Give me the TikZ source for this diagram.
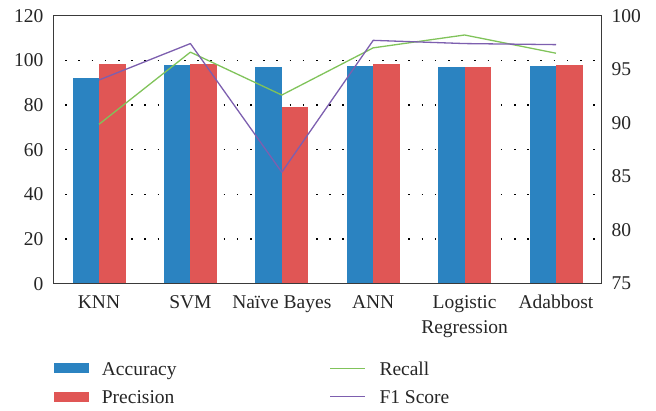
\documentclass[tikz,border=0pt]{standalone}
\usepackage{fontspec}
\setmainfont{Liberation Serif}
\definecolor{accblue}{HTML}{2B83C1}
\definecolor{precred}{HTML}{E05655}
\definecolor{recgreen}{HTML}{80C35A}
\definecolor{fonepurple}{HTML}{7D5FAF}
\definecolor{framegray}{HTML}{3A3A3A}
\definecolor{txtgray}{HTML}{262626}
\begin{document}
\begin{tikzpicture}[x=1pt,y=-1pt,
  lbl/.style={font=\fontsize{19.5}{23}\selectfont, text=txtgray, inner sep=0pt},
  gridline/.style={black, line width=1.5pt, dash pattern=on 1.5pt off 11.7pt},
  frameline/.style={framegray, line width=1.3pt},
  recline/.style={recgreen, line width=1.3pt, line join=round},
  foneline/.style={fonepurple, line width=1.3pt, line join=round}]
\useasboundingbox (0,0) rectangle (656,411);
% horizontal dotted grid (left axis: y = 283.7 - 2.2333 * value)
\foreach \v in {20,40,60,80,100}
  \draw[gridline] (65.25,{283.7-2.23333*\v}) -- (596,{283.7-2.23333*\v});
% bars: accuracy (blue) and precision (red)
\foreach \i/\a/\p in {0/92.1/98.4, 1/97.9/98.4, 2/97.0/79.1, 3/97.5/98.4, 4/97.0/97.0, 5/97.5/97.9} {
  \fill[accblue] ({99+91.4*\i-26.5},283.7) rectangle ({99+91.4*\i},{283.7-2.23333*\a});
  \fill[precred] ({99+91.4*\i},283.7) rectangle ({99+91.4*\i+26.5},{283.7-2.23333*\p});
}
% line series on the right axis (y = 283.7 - 10.72 * (value - 75))
\foreach \i/\r/\f in {0/89.87/94.0, 1/96.6/97.4, 2/92.6/85.4, 3/97.0/97.7, 4/98.2/97.4, 5/96.5/97.3} {
  \coordinate (r\i) at ({99+91.4*\i},{283.7-10.72*(\r-75)});
  \coordinate (f\i) at ({99+91.4*\i},{283.7-10.72*(\f-75)});
}
\draw[recline] (r0) -- (r1) -- (r2) -- (r3) -- (r4) -- (r5);
\draw[foneline] (f0) -- (f1) -- (f2) -- (f3) -- (f4) -- (f5);
% plot frame
\draw[frameline] (53.3,15.7) rectangle (601.7,283.7);
% left axis labels
\foreach \v in {0,20,40,60,80,100,120}
  \node[lbl, anchor=east] (l\v) at (43.5,{283.7-2.23333*\v}) {\v};
% right axis labels
\foreach \v in {75,80,85,90,95,100}
  \node[lbl, anchor=west] (rr\v) at (611.5,{283.7-10.72*(\v-75)}) {\v};
% category labels
\node[lbl, anchor=base] (cknn) at (99,308.3) {KNN};
\node[lbl, anchor=base] (csvm) at (190.4,308.3) {SVM};
\node[lbl, anchor=base] (cnb) at (281.8,308.3) {Naïve Bayes};
\node[lbl, anchor=base] (cann) at (373.2,308.3) {ANN};
\node[lbl, anchor=base] (clog) at (464.6,308.3) {Logistic};
\node[lbl, anchor=base] (creg) at (464.6,334) {Regression};
\node[lbl, anchor=base] (cada) at (556,308.3) {Adabbost};
% legend
\fill[accblue] (54,362.7) rectangle (89,373.3);
\fill[precred] (54,391.7) rectangle (89,402.3);
\node[lbl, anchor=base west] (lacc) at (101.7,376) {Accuracy};
\node[lbl, anchor=base west] (lpre) at (101.7,404) {Precision};
\coordinate (rs) at (330,368.3);
\coordinate (re) at (365.3,368.3);
\coordinate (fs) at (330,396.7);
\coordinate (fe) at (365.3,396.7);
\draw[recline] (rs) -- (re);
\draw[foneline] (fs) -- (fe);
\node[lbl, anchor=base west] (lrec) at (379.3,376) {Recall};
\node[lbl, anchor=base west] (lfone) at (379.3,404) {F1 Score};
\end{tikzpicture}
\end{document}
